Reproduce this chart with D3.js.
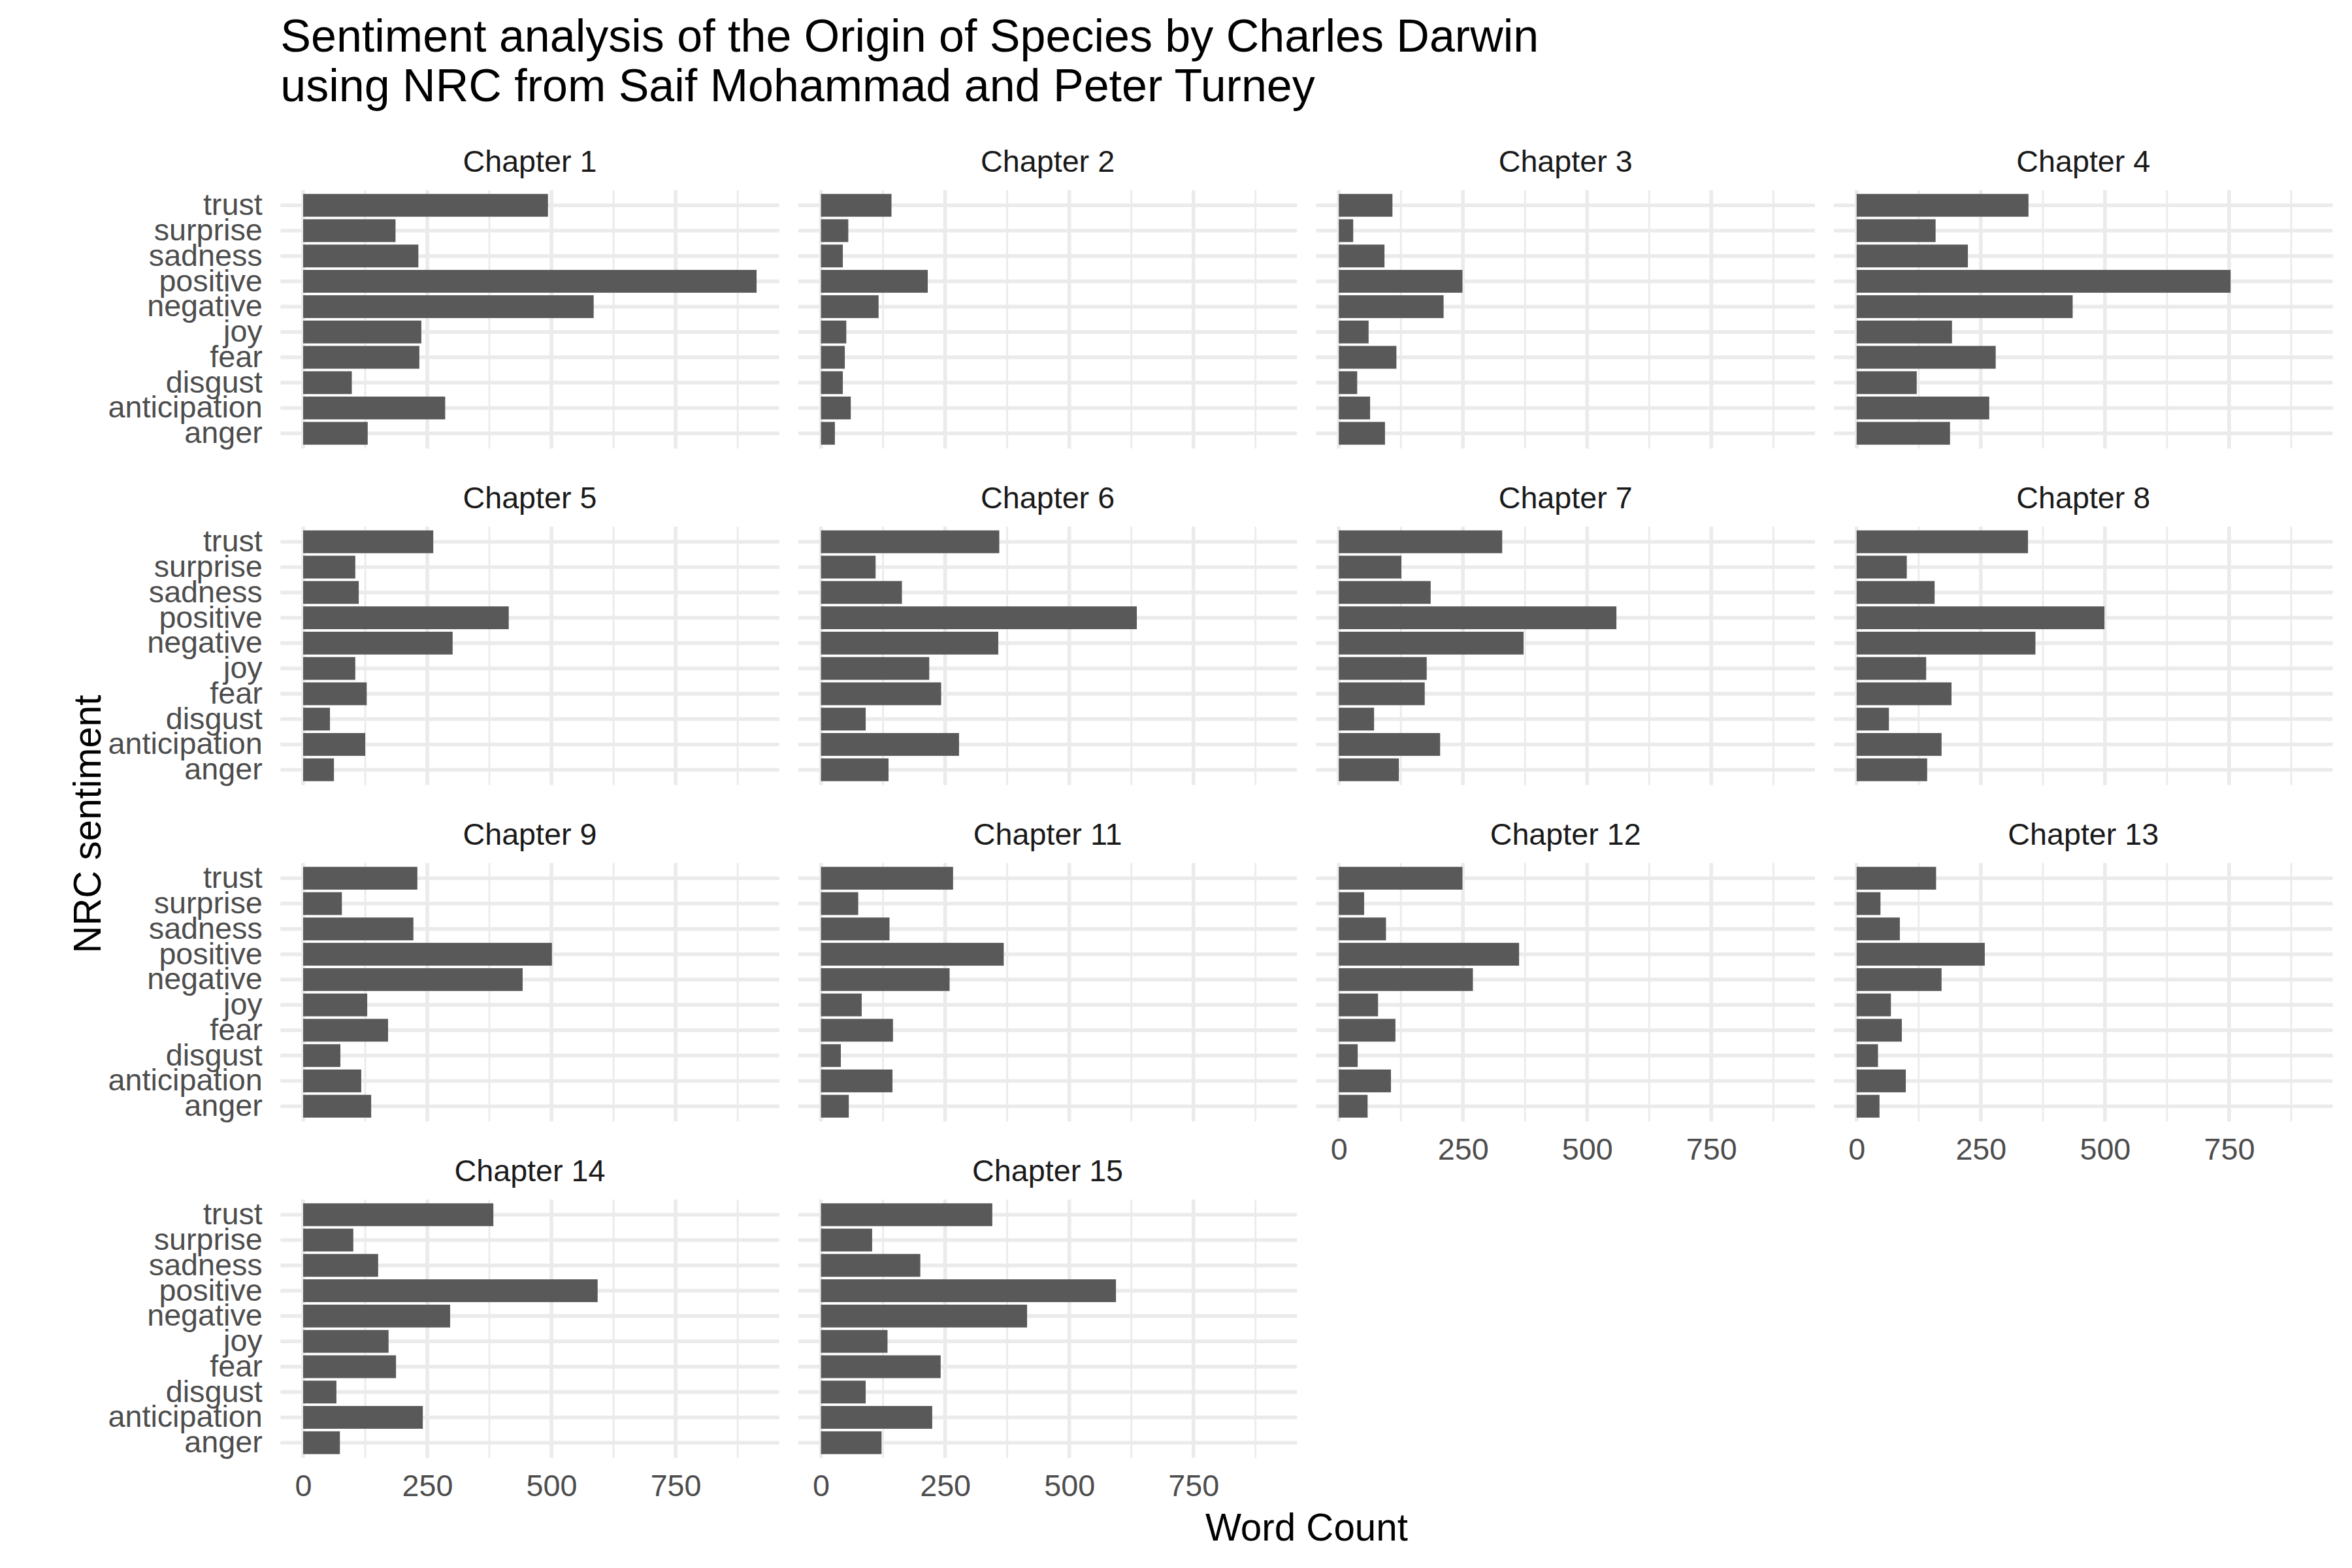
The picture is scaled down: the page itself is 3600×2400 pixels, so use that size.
<!DOCTYPE html>
<html>
<head>
<meta charset="utf-8">
<script src="https://cdn.jsdelivr.net/npm/d3@7"></script>
<style>
  html, body { margin: 0; padding: 0; background: #ffffff; }
  svg { display: block; }
  text { font-family: "Liberation Sans", Arial, Helvetica, sans-serif; }
</style>
</head>
<body>
<svg id="chart" width="3600" height="2400"></svg>
<script>
// ---------- data ----------
const sentiments = ["trust", "surprise", "sadness", "positive", "negative", "joy", "fear", "disgust", "anticipation", "anger"];
const chapterNames = ["Chapter 1", "Chapter 2", "Chapter 3", "Chapter 4", "Chapter 5", "Chapter 6", "Chapter 7",
                      "Chapter 8", "Chapter 9", "Chapter 11", "Chapter 12", "Chapter 13", "Chapter 14", "Chapter 15"];
// values in the order of `sentiments`
const ch1  = [493, 186, 232, 913, 585, 238, 234,  98, 286, 130];
const ch2  = [142,  55,  44, 215, 116,  51,  48,  44,  60,  28];
const ch3  = [108,  29,  92, 249, 211,  60, 116,  37,  63,  93];
const ch4  = [346, 159, 224, 753, 435, 192, 280, 121, 267, 188];
const ch5  = [262, 105, 112, 414, 301, 105, 128,  54, 125,  62];
const ch6  = [359, 110, 163, 636, 357, 218, 242,  90, 278, 136];
const ch7  = [329, 126, 185, 559, 372, 177, 173,  71, 204, 121];
const ch8  = [345, 101, 157, 499, 360, 140, 191,  65, 171, 142];
const ch9  = [230,  78, 222, 501, 442, 129, 171,  75, 117, 137];
const ch11 = [266,  75, 138, 368, 259,  82, 145,  40, 144,  56];
const ch12 = [249,  51,  95, 363, 270,  79, 114,  38, 105,  58];
const ch13 = [160,  48,  87, 258, 171,  69,  91,  43,  99,  46];
const ch14 = [383, 101, 151, 593, 296, 172, 187,  67, 241,  74];
const ch15 = [345, 103, 200, 594, 415, 134, 241,  90, 224, 122];
const chapterValues = [ch1, ch2, ch3, ch4, ch5, ch6, ch7, ch8, ch9, ch11, ch12, ch13, ch14, ch15];
const xMajorTicks = [0, 250, 500, 750];
const xMinorTicks = [125, 375, 625, 875];

const titleLines = ["Sentiment analysis of the Origin of Species by Charles Darwin",
                    "using NRC from Saif Mohammad and Peter Turney"];
const xTitle = "Word Count";
const yTitle = "NRC sentiment";

// ---------- layout ----------
const ncol = 4;
const panelLeft0 = 429.3, panelW = 763.4, gapX = 29.2;
const panelTop0 = 291, panelH = 395.5, pitchY = 515;
const nPanels = chapterNames.length;
const nRows = Math.ceil(nPanels / ncol);

const FONT_SMALL = 46.7, FONT_AXIS = 58.3, FONT_TITLE = 70;
const GRID = "#EBEBEB", BAR = "#595959";
const MAJOR_W = 5.66, MINOR_W = 2.83;

const svg = d3.select("#chart");

const maxV = d3.max(chapterValues, a => d3.max(a));
const x = d3.scaleLinear()
  .domain([-0.05 * maxV, 1.05 * maxV])
  .range([0, panelW]);
const y = d3.scaleBand()
  .domain(sentiments)
  .range([0, panelH])
  .paddingInner(0.1)
  .paddingOuter(0.15);

chapterNames.forEach((name, i) => {
  const col = i % ncol, row = Math.floor(i / ncol);
  const L = panelLeft0 + col * (panelW + gapX);
  const T = panelTop0 + row * pitchY;
  const g = svg.append("g").attr("transform", `translate(${L},${T})`);
  const vals = chapterValues[i];
  const data = sentiments.map((s, k) => ({ s, v: vals[k] }));

  // minor vertical grid
  g.selectAll("line.minor").data(xMinorTicks).join("line")
    .attr("x1", d => x(d)).attr("x2", d => x(d))
    .attr("y1", 0).attr("y2", panelH)
    .attr("stroke", GRID).attr("stroke-width", MINOR_W);
  // major vertical grid
  g.selectAll("line.majx").data(xMajorTicks).join("line")
    .attr("x1", d => x(d)).attr("x2", d => x(d))
    .attr("y1", 0).attr("y2", panelH)
    .attr("stroke", GRID).attr("stroke-width", MAJOR_W);
  // major horizontal grid
  g.selectAll("line.majy").data(sentiments).join("line")
    .attr("x1", 0).attr("x2", panelW)
    .attr("y1", d => y(d) + y.bandwidth() / 2).attr("y2", d => y(d) + y.bandwidth() / 2)
    .attr("stroke", GRID).attr("stroke-width", MAJOR_W);

  // bars
  g.selectAll("rect.bar").data(data).join("rect")
    .attr("x", x(0))
    .attr("y", d => y(d.s))
    .attr("width", d => x(d.v) - x(0))
    .attr("height", y.bandwidth())
    .attr("fill", BAR);

  // strip label
  g.append("text")
    .attr("x", panelW / 2).attr("y", -28.5)
    .attr("text-anchor", "middle")
    .attr("font-size", FONT_SMALL)
    .attr("fill", "#1A1A1A")
    .text(name);

  // y axis labels (first column only)
  if (col === 0) {
    const ax = g.append("g").call(d3.axisLeft(y).tickSize(0).tickPadding(0));
    ax.select(".domain").remove();
    ax.selectAll("text")
      .attr("x", -27.6).attr("dy", "0.32em")
      .attr("font-size", FONT_SMALL)
      .attr("font-family", "Liberation Sans, Arial, Helvetica, sans-serif")
      .attr("fill", "#4D4D4D");
  }
  // x axis labels (bottom panel of each column)
  const below = i + ncol;
  if (below >= nPanels) {
    const ax = g.append("g").attr("transform", `translate(0,${panelH})`)
      .call(d3.axisBottom(x).tickValues(xMajorTicks).tickSize(0).tickFormat(d3.format("d")));
    ax.select(".domain").remove();
    ax.selectAll("text")
      .attr("y", 58.5).attr("dy", null)
      .attr("font-size", FONT_SMALL)
      .attr("font-family", "Liberation Sans, Arial, Helvetica, sans-serif")
      .attr("fill", "#4D4D4D");
  }
});

// axis titles
const panelsRight = panelLeft0 + ncol * panelW + (ncol - 1) * gapX;
const panelsBottom = panelTop0 + (nRows - 1) * pitchY + panelH;
svg.append("text")
  .attr("x", (panelLeft0 + panelsRight) / 2).attr("y", 2358.3)
  .attr("text-anchor", "middle")
  .attr("font-size", FONT_AXIS).attr("fill", "#000")
  .text(xTitle);
svg.append("text")
  .attr("transform", `translate(154,${(panelTop0 + panelsBottom) / 2}) rotate(-90)`)
  .attr("text-anchor", "middle")
  .attr("font-size", FONT_AXIS).attr("fill", "#000")
  .text(yTitle);

// title
svg.append("g").selectAll("text").data(titleLines).join("text")
  .attr("x", panelLeft0)
  .attr("y", (d, i) => 79.3 + i * 75.7)
  .attr("font-size", FONT_TITLE).attr("fill", "#000")
  .text(d => d);
</script>
</body>
</html>
